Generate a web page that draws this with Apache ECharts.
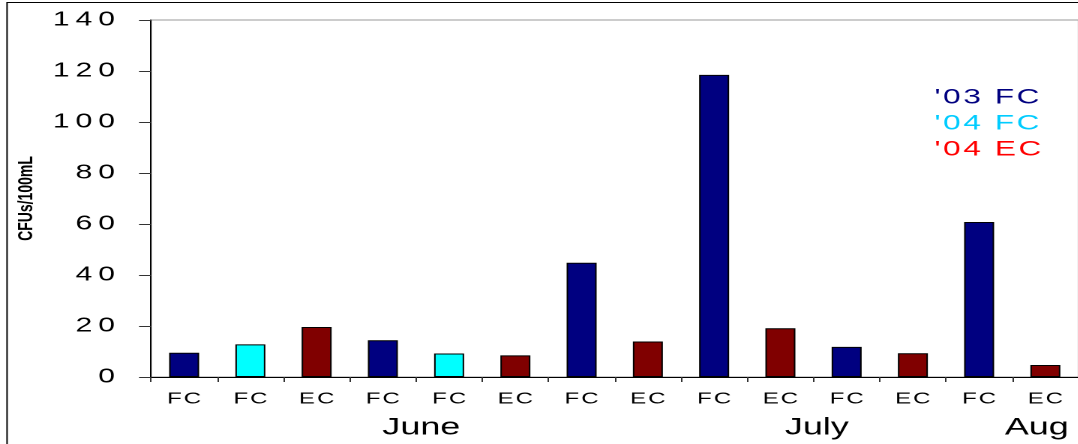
<!DOCTYPE html>
<html>
<head>
<meta charset="utf-8">
<script src="https://cdn.jsdelivr.net/npm/echarts@6/dist/echarts.min.js"></script>
<style>
html,body{margin:0;padding:0;background:#fff;overflow:hidden;}
/* the reference is stretched sideways, so draw narrow and widen it */
#chart{width:718.67px;height:444px;transform:scaleX(1.5);transform-origin:0 0;}
</style>
</head>
<body>
<div id="chart"></div>
<script>
var categories=['FC','FC','EC','FC','FC','EC','FC','EC','FC','EC','FC','EC','FC','EC'];
var fc03=[9.5,null,null,14.4,null,null,44.8,null,118.5,null,11.8,null,60.8,null];
var fc04=[null,12.8,null,null,9.2,null,null,null,null,null,null,null,null,null];
var ec04=[null,null,19.6,null,null,8.5,null,13.9,null,19.1,null,9.3,null,4.7];
var seriesNames=["'03 FC","'04 FC","'04 EC"];
var months=['June','July','Aug'];
var monthCenters=[4.08,10.05,13.37];
var yTicks=[0,20,40,60,80,100,120,140];

var font='Liberation Sans';
function spaced(s,sp){return String(s).split('').join(sp);}

var chart=echarts.init(document.getElementById('chart'),null,{devicePixelRatio:2});

var option={
	backgroundColor:'#fff',
	animation:false,
	graphic:[{
		type:'rect',
		shape:{x:4.7,y:2.5,width:800,height:500},
		style:{fill:null,stroke:'#000',lineWidth:1},
		silent:true
	}],
	legend:{
		orient:'vertical',
		left:612,
		top:82,
		itemWidth:0,
		itemHeight:0,
		itemGap:5,
		icon:'rect',
		selectedMode:false,
		textStyle:{fontFamily:font,fontSize:21},
		formatter:function(n){return spaced(n,'\u200A');},
		data:[
			{name:seriesNames[0],textStyle:{color:'#000080'}},
			{name:seriesNames[1],textStyle:{color:'#00CCFF'}},
			{name:seriesNames[2],textStyle:{color:'#FF0000'}}
		]
	},
	grid:{
		left:100.67,
		top:20,
		width:622.67,
		height:357,
		show:true,
		borderColor:'#999',
		borderWidth:1,
		containLabel:false
	},
	xAxis:[{
		type:'category',
		data:categories,
		axisLine:{lineStyle:{color:'#000',width:1}},
		axisTick:{show:true,interval:0,length:5,lineStyle:{color:'#333'}},
		axisLabel:{interval:0,margin:14,color:'#000',fontFamily:font,fontSize:16,
			formatter:function(v){return spaced(v,'\u200A');}},
		splitLine:{show:false}
	},{
		type:'value',
		position:'bottom',
		min:0,
		max:14,
		axisLine:{show:false},
		axisTick:{show:false},
		splitLine:{show:false},
		axisLabel:{
			customValues:monthCenters,
			margin:39,
			color:'#000',
			fontFamily:font,
			fontSize:24,
			formatter:function(v){
				var i=monthCenters.indexOf(v);
				return i>=0?months[i]:'';
			}
		}
	}],
	yAxis:{
		type:'value',
		min:yTicks[0],
		max:yTicks[yTicks.length-1],
		interval:20,
		name:'CFUs/100mL',
		nameLocation:'middle',
		nameRotate:90,
		nameGap:75,
		nameTextStyle:{fontFamily:font,fontSize:14,fontWeight:'bold',color:'#000'},
		axisLine:{show:true,lineStyle:{color:'#000',width:1}},
		axisTick:{show:true,length:8,lineStyle:{color:'#333'}},
		axisLabel:{margin:24,color:'#000',fontFamily:font,fontSize:20,
			formatter:function(v){return spaced(v,'\u2009');}},
		splitLine:{show:false}
	},
	series:[
		{name:seriesNames[0],type:'bar',data:fc03,barWidth:20,barGap:'-100%',
			itemStyle:{color:'#000080',borderColor:'#000',borderWidth:1}},
		{name:seriesNames[1],type:'bar',data:fc04,barWidth:20,barGap:'-100%',
			itemStyle:{color:'#00FFFF',borderColor:'#000',borderWidth:1}},
		{name:seriesNames[2],type:'bar',data:ec04,barWidth:20,barGap:'-100%',
			itemStyle:{color:'#800000',borderColor:'#000',borderWidth:1}}
	]
};
chart.setOption(option);
</script>
</body>
</html>
